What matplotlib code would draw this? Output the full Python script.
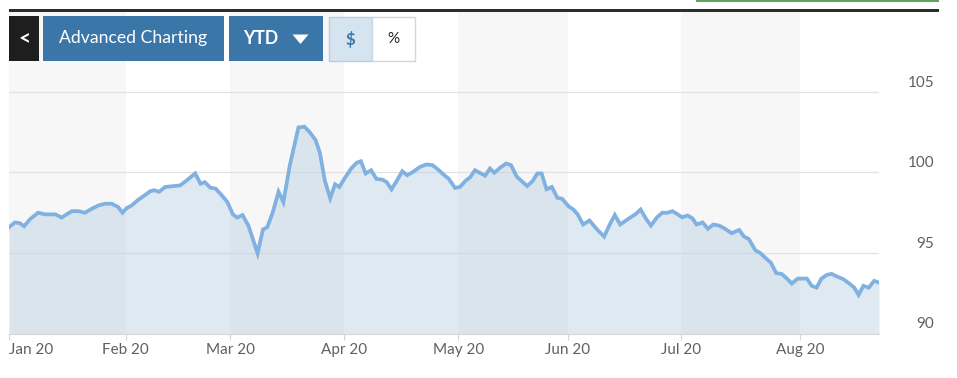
import matplotlib
matplotlib.use('Agg')
from matplotlib import pyplot as plt
from matplotlib.patches import Rectangle, Polygon

plt.rcParams['font.family'] = ['Lato', 'DejaVu Sans']

############### data ###############
# x = trading session since 2 Jan 2020, y = price
session = [0, 1.1, 2.0, 2.8, 3.9, 5.4, 6.7, 8.6, 9.8, 10.7, 11.7, 12.9, 14.1, 15.4,
           16.6, 17.8, 19.1, 20.3, 21.1, 21.9, 22.8, 24.0, 25.3, 26.2, 27.0, 27.9,
           29.0, 30.2, 31.8, 33.0, 34.6, 35.6, 36.4, 37.4, 38.4, 39.5, 40.6, 41.6,
           42.4, 43.4, 44.5, 46.2, 47.2, 48.0, 49.0, 50.1, 51.0, 52.2, 53.8, 54.9,
           55.9, 57.0, 57.8, 58.7, 59.7, 60.6, 61.4, 62.5, 63.6, 64.6, 65.4, 66.3,
           67.3, 68.3, 69.4, 70.2, 71.1, 72.1, 73.1, 74.0, 75.1, 76.4, 77.6, 78.7,
           79.9, 80.9, 81.7, 82.9, 83.8, 84.9, 85.7, 86.6, 87.5, 88.5, 89.4, 90.2,
           91.3, 92.4, 93.3, 94.4, 95.3, 96.3, 97.3, 98.2, 99.0, 99.9, 100.9, 101.9,
           102.8, 104.0, 104.9, 105.7, 106.7, 107.9, 109.2, 110.6, 111.7, 112.6,
           113.6, 115.1, 116.4, 117.4, 118.4, 119.3, 120.4, 121.4, 122.4, 123.3,
           124.3, 125.1, 126.1, 127.0, 127.8, 128.9, 129.9, 130.9, 132.0, 133.1,
           134.3, 135.7, 136.6, 137.5, 138.7, 139.7, 140.7, 141.6, 142.6, 143.6,
           144.5, 145.5, 146.6, 148.3, 149.2, 150.1, 151.0, 152.0, 152.9, 153.9,
           155.1, 156.2, 157.1, 157.9, 158.8, 159.8, 160.8, 161.7]
price = [96.6, 96.9, 96.85, 96.66, 97.1, 97.5, 97.4, 97.4, 97.2, 97.4, 97.6, 97.6,
         97.5, 97.75, 97.95, 98.06, 98.06, 97.85, 97.5, 97.8, 97.95, 98.3, 98.6,
         98.83, 98.9, 98.8, 99.1, 99.14, 99.2, 99.5, 99.94, 99.3, 99.4, 99.06, 99.0,
         98.6, 98.16, 97.4, 97.2, 97.36, 96.7, 94.98, 96.46, 96.6, 97.5, 98.8, 98.16,
         100.46, 102.8, 102.85, 102.5, 102.0, 101.2, 99.5, 98.4, 99.27, 99.1, 99.7,
         100.25, 100.6, 100.7, 99.94, 100.14, 99.6, 99.56, 99.4, 98.96, 99.5, 100.08,
         99.83, 100.04, 100.35, 100.5, 100.46, 100.14, 99.83, 99.62, 99.04, 99.1,
         99.5, 99.7, 100.14, 99.98, 99.8, 100.25, 99.98, 100.3, 100.56, 100.46, 99.73,
         99.46, 99.16, 99.46, 99.94, 99.94, 98.96, 99.1, 98.43, 98.37, 97.9, 97.7,
         97.4, 96.77, 97.02, 96.5, 96.02, 96.8, 97.36, 96.77, 97.12, 97.4, 97.7,
         97.12, 96.7, 97.2, 97.5, 97.5, 97.6, 97.4, 97.22, 97.33, 97.16, 96.77, 96.9,
         96.5, 96.77, 96.7, 96.5, 96.23, 96.43, 96.02, 95.87, 95.18, 94.98, 94.66,
         94.4, 93.75, 93.7, 93.44, 93.1, 93.41, 93.41, 92.96, 92.85, 93.41, 93.64,
         93.7, 93.54, 93.37, 93.1, 92.85, 92.4, 92.96, 92.85, 93.27, 93.16]

month_pos = [0, 21.7, 41.1, 62.3, 83.5, 103.9, 124.9, 147.0, 161.7]
month_labels = ['Jan 20', 'Feb 20', 'Mar 20', 'Apr 20', 'May 20', 'Jun 20', 'Jul 20', 'Aug 20']
y_ticks = [90, 95, 100, 105]

############### figure ###############
W, H = 957, 378
fig = plt.figure(figsize=(W / 100, H / 100), dpi=100)
fig.patch.set_facecolor('white')

ax = fig.add_axes([9 / W, 44.5 / H, 870 / W, 322 / H])
ax.set_xlim(month_pos[0], month_pos[-1])
ax.set_ylim(90, 110)
ax.set_facecolor('white')

# alternating month bands
for i in range(len(month_pos) - 1):
    if i % 2 == 0:
        ax.axvspan(month_pos[i], month_pos[i + 1], color='#f7f7f7', lw=0, zorder=0)

for v in y_ticks[1:]:
    ax.axhline(v, color='#e2e2e2', lw=0.9, zorder=1)

ax.fill_between(session, 90, price, color='#b7cfe2', alpha=0.45, lw=0, zorder=2)
ax.plot(session, price, color='#80b1e0', lw=2.7, solid_joinstyle='miter', zorder=3)

for s in ['top', 'right', 'left']:
    ax.spines[s].set_visible(False)
ax.spines['bottom'].set_color('#d6d6d6')
ax.set_yticks([])
ax.set_xticks(month_pos[:-1])
ax.set_xticklabels(month_labels, fontsize=11, color='#606060')
ax.get_xticklabels()[0].set_horizontalalignment('left')
ax.tick_params(axis='x', length=4, color='#d6d6d6', pad=3)

for v in y_ticks:
    ax.annotate(str(v), xy=(1, v), xycoords=('axes fraction', 'data'),
                xytext=(55, 9), textcoords='offset pixels', ha='right', va='center',
                fontsize=11, color='#606060')

############### toolbar overlay (pixel coords) ###############
ov = fig.add_axes([0, 0, 1, 1], zorder=10)
ov.set_xlim(0, W)
ov.set_ylim(H, 0)
ov.axis('off')
ov.patch.set_alpha(0)

ov.add_patch(Rectangle((9, 9), 930, 3.2, color='#2b2e31', lw=0))
ov.add_patch(Rectangle((696, 0), 243, 1.6, color='#5fa35f', lw=0))

blue = '#3a77a8'
ov.add_patch(Rectangle((9, 16), 30, 45, color='#1e1e1e', lw=0))
ov.text(24, 38.5, '<', color='white', fontsize=15, fontweight='bold', ha='center', va='center')
ov.add_patch(Rectangle((43, 16), 181, 45, color=blue, lw=0))
ov.text(133.5, 38.5, 'Advanced Charting', color='white', fontsize=12.7, ha='center', va='center')
ov.add_patch(Rectangle((229, 16), 94, 45, color=blue, lw=0))
ov.text(243, 39, 'YTD', color='white', fontsize=12.7, fontweight='bold', ha='left', va='center')
ov.add_patch(Polygon([(292.5, 34.5), (308.5, 34.5), (300.5, 44)], closed=True, color='white', lw=0))
ov.add_patch(Rectangle((329, 16.5), 43, 44, facecolor='#d6e4f0', edgecolor='#b9cde0', lw=1))
ov.text(350.5, 39, '$', color=blue, fontsize=12, fontweight='bold', ha='center', va='center')
ov.add_patch(Rectangle((372, 16.5), 43, 44, facecolor='white', edgecolor='#c9d9e7', lw=1))
ov.text(393.5, 39, '%', color='#222222', fontsize=11, ha='center', va='center')

fig.savefig('out.png', dpi=100, facecolor='white')
